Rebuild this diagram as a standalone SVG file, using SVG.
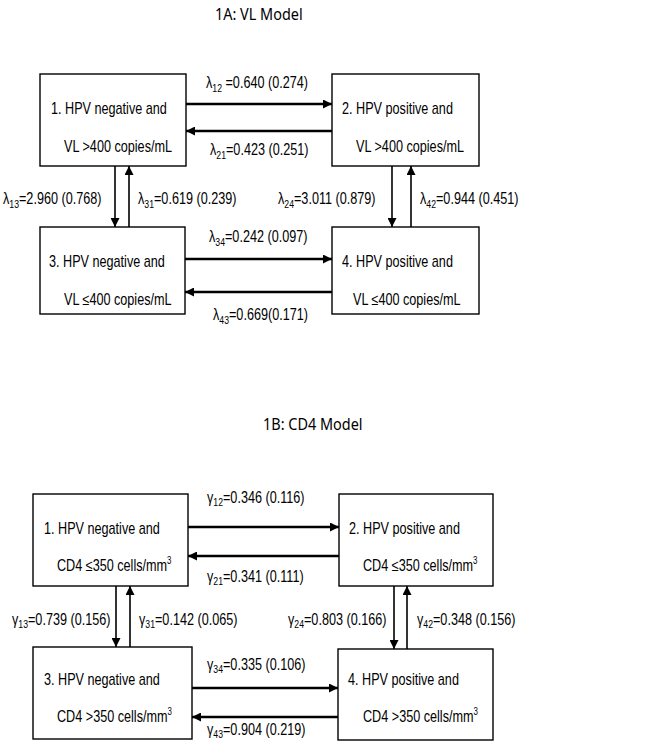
<svg xmlns="http://www.w3.org/2000/svg" width="647" height="749" viewBox="0 0 647 749">
<style>
.bg{fill:#fff}
.box{fill:#fff;stroke:#000;stroke-width:1.4}
.t{font-family:"Liberation Sans",Arial,sans-serif;font-size:16px;fill:#000}
.title{font-family:"Noto Sans","Open Sans",sans-serif;font-size:17px;fill:#000}
.sub{font-size:11px}
.sup{font-size:10px}
.h{stroke:#000;stroke-width:2.4;fill:none}
.v{stroke:#000;stroke-width:1.6;fill:none}
</style>
<defs>
<marker id="ah" viewBox="0 0 10 10" refX="10" refY="5" markerWidth="10" markerHeight="9" markerUnits="userSpaceOnUse" orient="auto">
<path d="M0,0 L10,5 L0,10 Z" fill="#000"/>
</marker>
<marker id="av" viewBox="0 0 10 10" refX="10" refY="5" markerWidth="11" markerHeight="9" markerUnits="userSpaceOnUse" orient="auto">
<path d="M0,0 L10,5 L0,10 Z" fill="#000"/>
</marker>
</defs>
<rect class="bg" x="0" y="0" width="647" height="749"/>

<text class="title" transform="translate(215 19.5) scale(0.85 1)">1A: VL Model</text>
<text class="title" transform="translate(263 430) scale(0.85 1)">1B: CD4 Model</text>

<g id="a1">
<rect class="box" x="40" y="74" width="146" height="92"/>
<text class="t" transform="translate(51 114) scale(0.79 1)">1. HPV negative and</text>
<text class="t" transform="translate(64 152) scale(0.79 1)">VL &gt;400 copies/mL</text>
</g>
<g id="a2">
<rect class="box" x="332" y="74" width="147" height="92"/>
<text class="t" transform="translate(342 114) scale(0.79 1)">2. HPV positive and</text>
<text class="t" transform="translate(356 152) scale(0.79 1)">VL &gt;400 copies/mL</text>
</g>
<g id="a3">
<rect class="box" x="40" y="227" width="145" height="87"/>
<text class="t" transform="translate(49 267) scale(0.79 1)">3. HPV negative and</text>
<text class="t" transform="translate(64 305) scale(0.79 1)">VL ≤400 copies/mL</text>
</g>
<g id="a4">
<rect class="box" x="332" y="227" width="147" height="87"/>
<text class="t" transform="translate(342 267) scale(0.79 1)">4. HPV positive and</text>
<text class="t" transform="translate(353 305) scale(0.79 1)">VL ≤400 copies/mL</text>
</g>

<g id="b1">
<rect class="box" x="33" y="494" width="155" height="92"/>
<text class="t" transform="translate(44 534) scale(0.79 1)">1. HPV negative and</text>
<text class="t" transform="translate(57 571) scale(0.79 1)">CD4 ≤350 cells/mm<tspan class="sup" dy="-7">3</tspan></text>
</g>
<g id="b2">
<rect class="box" x="339" y="494" width="154" height="92"/>
<text class="t" transform="translate(349 534) scale(0.79 1)">2. HPV positive and</text>
<text class="t" transform="translate(363 571) scale(0.79 1)">CD4 ≤350 cells/mm<tspan class="sup" dy="-7">3</tspan></text>
</g>
<g id="b3">
<rect class="box" x="33" y="647" width="159" height="92"/>
<text class="t" transform="translate(44 685) scale(0.79 1)">3. HPV negative and</text>
<text class="t" transform="translate(57 722) scale(0.79 1)">CD4 &gt;350 cells/mm<tspan class="sup" dy="-7">3</tspan></text>
</g>
<g id="b4">
<rect class="box" x="338" y="649" width="155" height="91"/>
<text class="t" transform="translate(348 685) scale(0.79 1)">4. HPV positive and</text>
<text class="t" transform="translate(363 722) scale(0.79 1)">CD4 &gt;350 cells/mm<tspan class="sup" dy="-7">3</tspan></text>
</g>

<g id="connectors">
<line class="h" x1="186" y1="104" x2="332" y2="104" marker-end="url(#ah)"/>
<line class="h" x1="332" y1="131" x2="186" y2="131" marker-end="url(#ah)"/>
<line class="v" x1="115" y1="166" x2="115" y2="227" marker-end="url(#av)"/>
<line class="v" x1="129" y1="227" x2="129" y2="166" marker-end="url(#av)"/>
<line class="v" x1="392" y1="166" x2="392" y2="227" marker-end="url(#av)"/>
<line class="v" x1="411" y1="227" x2="411" y2="166" marker-end="url(#av)"/>
<line class="h" x1="185" y1="259" x2="332" y2="259" marker-end="url(#ah)"/>
<line class="h" x1="332" y1="292" x2="185" y2="292" marker-end="url(#ah)"/>

<line class="h" x1="188" y1="527" x2="339" y2="527" marker-end="url(#ah)"/>
<line class="h" x1="339" y1="556" x2="188" y2="556" marker-end="url(#ah)"/>
<line class="v" x1="116" y1="586" x2="116" y2="647" marker-end="url(#av)"/>
<line class="v" x1="130" y1="647" x2="130" y2="586" marker-end="url(#av)"/>
<line class="v" x1="394" y1="586" x2="394" y2="649" marker-end="url(#av)"/>
<line class="v" x1="407" y1="649" x2="407" y2="586" marker-end="url(#av)"/>
<line class="h" x1="192" y1="688" x2="338" y2="688" marker-end="url(#ah)"/>
<line class="h" x1="338" y1="717" x2="192" y2="717" marker-end="url(#ah)"/>
</g>

<g id="labels">
<text class="t" transform="translate(206 88) scale(0.79 1)">λ<tspan class="sub" dy="4">12</tspan><tspan dy="-4"> =0.640 (0.274)</tspan></text>
<text class="t" transform="translate(210 155) scale(0.79 1)">λ<tspan class="sub" dy="4">21</tspan><tspan dy="-4">=0.423 (0.251)</tspan></text>
<text class="t" transform="translate(3 204) scale(0.79 1)">λ<tspan class="sub" dy="4">13</tspan><tspan dy="-4">=2.960 (0.768)</tspan></text>
<text class="t" transform="translate(138 204) scale(0.79 1)">λ<tspan class="sub" dy="4">31</tspan><tspan dy="-4">=0.619 (0.239)</tspan></text>
<text class="t" transform="translate(278 204) scale(0.79 1)">λ<tspan class="sub" dy="4">24</tspan><tspan dy="-4">=3.011 (0.879)</tspan></text>
<text class="t" transform="translate(420 204) scale(0.79 1)">λ<tspan class="sub" dy="4">42</tspan><tspan dy="-4">=0.944 (0.451)</tspan></text>
<text class="t" transform="translate(209 242) scale(0.79 1)">λ<tspan class="sub" dy="4">34</tspan><tspan dy="-4">=0.242 (0.097)</tspan></text>
<text class="t" transform="translate(213 320) scale(0.79 1)">λ<tspan class="sub" dy="4">43</tspan><tspan dy="-4">=0.669(0.171)</tspan></text>

<text class="t" transform="translate(207 503) scale(0.79 1)">γ<tspan class="sub" dy="3">12</tspan><tspan dy="-3">=0.346 (0.116)</tspan></text>
<text class="t" transform="translate(207 582) scale(0.79 1)">γ<tspan class="sub" dy="3">21</tspan><tspan dy="-3">=0.341 (0.111)</tspan></text>
<text class="t" transform="translate(12 625) scale(0.79 1)">γ<tspan class="sub" dy="3">13</tspan><tspan dy="-3">=0.739 (0.156)</tspan></text>
<text class="t" transform="translate(139 625) scale(0.79 1)">γ<tspan class="sub" dy="3">31</tspan><tspan dy="-3">=0.142 (0.065)</tspan></text>
<text class="t" transform="translate(288 625) scale(0.79 1)">γ<tspan class="sub" dy="3">24</tspan><tspan dy="-3">=0.803 (0.166)</tspan></text>
<text class="t" transform="translate(417 625) scale(0.79 1)">γ<tspan class="sub" dy="3">42</tspan><tspan dy="-3">=0.348 (0.156)</tspan></text>
<text class="t" transform="translate(207 670) scale(0.79 1)">γ<tspan class="sub" dy="3">34</tspan><tspan dy="-3">=0.335 (0.106)</tspan></text>
<text class="t" transform="translate(207 735) scale(0.79 1)">γ<tspan class="sub" dy="3">43</tspan><tspan dy="-3">=0.904 (0.219)</tspan></text>
</g>
</svg>
